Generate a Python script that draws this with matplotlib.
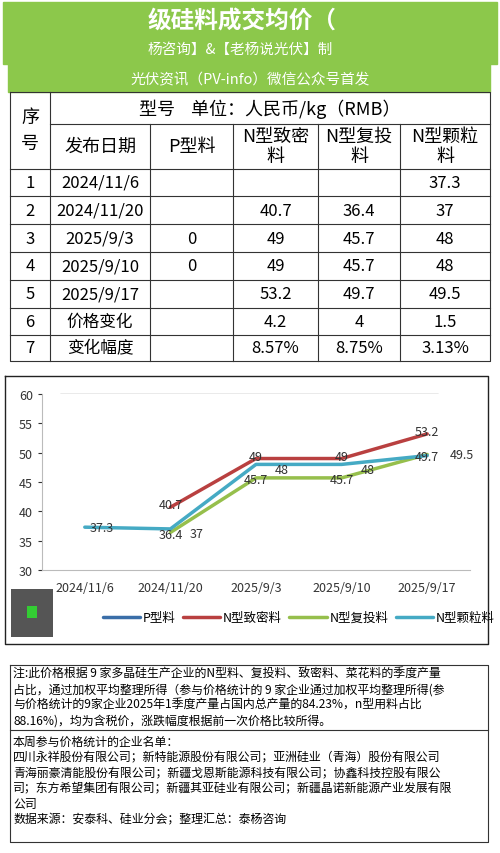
import matplotlib
matplotlib.use("Agg")
import matplotlib.pyplot as plt
import numpy as np
from matplotlib.patches import Rectangle

plt.rcParams['font.family'] = ['Noto Sans CJK SC', 'DejaVu Sans']

dates = ["2024/11/6", "2024/11/20", "2025/9/3", "2025/9/10", "2025/9/17"]
p_type = [np.nan, np.nan, 0, 0, np.nan]
n_dense = [np.nan, 40.7, 49, 49, 53.2]
n_reinvest = [np.nan, 36.4, 45.7, 45.7, 49.7]
n_granular = [37.3, 37, 48, 48, 49.5]
change = ["", "4.2", "4", "1.5"]
change_pct = ["", "8.57%", "8.75%", "3.13%"]

def fmt(v):
    if v is None or (isinstance(v, float) and np.isnan(v)):
        return ""
    return f"{v:g}"

fig = plt.figure(figsize=(5, 8.54), dpi=100)
bg = fig.add_axes([0, 0, 1, 1])
bg.set_xlim(0, 500); bg.set_ylim(854, 0); bg.axis('off')

G = '#8cc84b'
bg.add_patch(Rectangle((3, 3), 494, 62, color=G, zorder=1))
bg.add_patch(Rectangle((8, 62), 482, 31, color=G, zorder=1))
bg.text(148, 22, "级硅料成交均价（", ha='left', va='center', fontsize=17, color='white', weight='bold')
bg.text(148, 50, "杨咨询】&【老杨说光伏】制", ha='left', va='center', fontsize=10.5, color='white')
bg.text(250, 80, "光伏资讯（PV-info）微信公众号首发", ha='center', va='center', fontsize=10.5, color='white')

xs = [10, 50, 150, 233, 318, 400, 490]
ys = [93, 125, 170, 197, 225, 253, 281, 309, 336, 362]
lw = 0.8
bg.plot([10, 490, 490, 10, 10], [93, 93, 362, 362, 93], color='#333', lw=lw)
for y in ys[2:-1]:
    bg.plot([10, 490], [y, y], color='#333', lw=lw)
bg.plot([50, 490], [125, 125], color='#333', lw=lw)
for x in xs[1:-1]:
    bg.plot([x, x], [125 if x > 50 else 93, 362], color='#333', lw=lw)
fs = 12
bg.text(30, 131, "序\n号", ha='center', va='center', fontsize=fs+1, linespacing=1.6)
bg.text(270, 109, "型号    单位：人民币/kg（RMB）", ha='center', va='center', fontsize=fs+1)
heads = ["发布日期", "P型料", "N型致密\n料", "N型复投\n料", "N型颗粒\n料"]
for i, h in enumerate(heads):
    bg.text((xs[i+1]+xs[i+2])/2, 147, h, ha='center', va='center', fontsize=fs+1, linespacing=1.15)
rows = []
for i in range(5):
    rows.append([str(i+1), dates[i], fmt(p_type[i]), fmt(n_dense[i]), fmt(n_reinvest[i]), fmt(n_granular[i])])
rows.append(["6", "价格变化", "", change[1], change[2], change[3]])
rows.append(["7", "变化幅度", "", change_pct[1], change_pct[2], change_pct[3]])
for r, row in enumerate(rows):
    yc = (ys[r+2]+ys[r+3])/2
    for c, t in enumerate(row):
        bg.text((xs[c]+xs[c+1])/2, yc, t, ha='center', va='center', fontsize=fs)

bg.plot([5, 488, 488, 5, 5], [377, 377, 645, 645, 377], color='#222', lw=1)

ax = fig.add_axes([42/500, 1-571/854, (470-42)/500, (571-395)/854])
x = np.arange(5)
series = [("P型料", p_type, '#3a6ea8', None), ("N型致密料", n_dense, '#b94040', (0.0, 0.4)),
          ("N型复投料", n_reinvest, '#96bf4c', (0.0, -0.3)), ("N型颗粒料", n_granular, '#45aac4', (0.3, -0.8))]
for name, vals, col, off in series:
    v = np.array(vals, dtype=float)
    ax.plot(x, v, color=col, lw=2.5, label=name, solid_capstyle='round')
    if off is not None:
        for xi, vi in zip(x, v):
            if not np.isnan(vi):
                dx, dy = off
                if name == "N型颗粒料" and xi == 0:
                    dx, dy = 0.2, 0
                if name == "N型颗粒料" and xi == 4:
                    dx, dy = 0.4, 0.2
                ax.text(xi + dx, vi + dy, fmt(vi),
                        fontsize=9, color='#333', ha='center', va='center')
ax.set_ylim(30, 60)
ax.set_xlim(-0.5, 4.5)
ax.set_yticks(range(30, 61, 5))
ax.set_xticks(x)
ax.set_xticklabels(dates, fontsize=9, color='#333')
ax.tick_params(axis='y', labelsize=9, colors='#333', length=3)
ax.tick_params(axis='x', length=0, pad=8)
for s in ['top', 'right']:
    ax.spines[s].set_visible(False)
ax.spines['left'].set_color('#bbb'); ax.spines['bottom'].set_color('#bbb')
ax.legend(loc='upper center', bbox_to_anchor=(0.6, -0.17), ncol=4, frameon=False,
          fontsize=9, handlelength=3, columnspacing=0.6, handletextpad=0.2)

bg.add_patch(Rectangle((60, 395), 378, 63, color='#8c8c8c', alpha=0.9, zorder=5))
bg.text(249, 426, "【锰硅2105期货行情,锰硅期货今日行\n情】", ha='center', va='center',
        fontsize=12.5, color='white', weight='bold', zorder=6, linespacing=1.3)
bg.add_patch(Rectangle((11, 590), 42, 48, facecolor='#555', zorder=5))
bg.add_patch(Rectangle((27, 607), 10, 12, facecolor='#3c3', zorder=6))

bg.plot([10, 488, 488, 10, 10], [666, 666, 843, 843, 666], color='#333', lw=0.8)
bg.plot([10, 488], [731, 731], color='#333', lw=0.8)
note = ("注:此价格根据 9 家多晶硅生产企业的N型料、复投料、致密料、菜花料的季度产量\n"
        "占比，通过加权平均整理所得（参与价格统计的 9 家企业通过加权平均整理所得(参\n"
        "与价格统计的9家企业2025年1季度产量占国内总产量的84.23%，n型用料占比\n"
        "88.16%)，均为含税价，涨跌幅度根据前一次价格比较所得。")
bg.text(13, 668, note, ha='left', va='top', fontsize=8.6, linespacing=1.25)
note2 = ("本周参与价格统计的企业名单：\n"
         "四川永祥股份有限公司；新特能源股份有限公司；亚洲硅业（青海）股份有限公司\n"
         "青海丽豪清能股份有限公司；新疆戈恩斯能源科技有限公司；协鑫科技控股有限公\n"
         "司；东方希望集团有限公司；新疆其亚硅业有限公司；新疆晶诺新能源产业发展有限\n"
         "公司\n"
         "数据来源：安泰科、硅业分会；整理汇总：泰杨咨询")
bg.text(13, 736, note2, ha='left', va='top', fontsize=8.6, linespacing=1.25)

fig.savefig("out.png", dpi=100)
